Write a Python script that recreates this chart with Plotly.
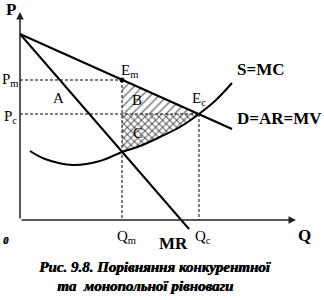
import plotly.graph_objects as go

# ---- data (diagram units: Q horizontal, P vertical) ----
demand_q = [0, 102, 179, 212]
demand_p = [186, 140, 106, 91]
mr_q = [0, 169]
mr_p = [186, -9]
mc_q = [10, 25, 53, 80, 102, 120, 140, 160, 179, 196, 212]
mc_p = [69, 61, 55, 59, 68, 74, 83, 93, 106, 120, 137]
Qm, Qc = 102, 179
Pm, Pc = 140, 106
Q_max, P_max = 276, 208

W, H = 324, 300
X0, Y0 = 20, 220  # pixel position of origin

fig = go.Figure()

# hatched region B (diagonal)
fig.add_trace(go.Scatter(
    x=[Qm, Qc, Qm, Qm], y=[Pm, Pc, Pc, Pm], mode="lines", fill="toself",
    line=dict(width=0, color="black"), fillcolor="white",
    fillpattern=dict(shape="/", size=6, solidity=0.25, fgcolor="black", bgcolor="white"),
    hoverinfo="skip", showlegend=False))

# cross-hatched region C (two overlaid diagonal hatches)
c_q = [Qm, Qc] + [q for q in reversed(mc_q) if Qm <= q <= Qc]
c_p = [Pc, Pc] + [p for q, p in reversed(list(zip(mc_q, mc_p))) if Qm <= q <= Qc]
for shape, bg in [("/", "white"), ("\\", "rgba(0,0,0,0)")]:
    fig.add_trace(go.Scatter(
        x=c_q + [Qm], y=c_p + [Pc], mode="lines", fill="toself",
        line=dict(width=0, color="black"), fillcolor=bg,
        fillpattern=dict(shape=shape, size=5, solidity=0.25, fgcolor="black", bgcolor=bg),
        hoverinfo="skip", showlegend=False))

dash = dict(color="black", width=1, dash="3px,2px")
for xs, ys in [([0, Qm], [Pm, Pm]), ([0, Qc], [Pc, Pc]),
               ([Qm, Qm], [Pm, 0]), ([Qc, Qc], [Pc, 0])]:
    fig.add_trace(go.Scatter(x=xs, y=ys, mode="lines", line=dash,
                             hoverinfo="skip", showlegend=False))

solid = dict(color="black", width=2)
fig.add_trace(go.Scatter(x=demand_q, y=demand_p, mode="lines", line=solid, showlegend=False))
fig.add_trace(go.Scatter(x=mr_q, y=mr_p, mode="lines", line=solid, showlegend=False))
fig.add_trace(go.Scatter(x=mc_q, y=mc_p, mode="lines",
                         line=dict(color="black", width=2, shape="spline"), showlegend=False))
fig.add_trace(go.Scatter(x=[Qm], y=[Pm], mode="markers",
                         marker=dict(color="black", size=5), showlegend=False))

# axes with arrows
fig.add_annotation(x=Q_max, y=0, ax=0, ay=0, xref="x", yref="y", axref="x", ayref="y",
                   showarrow=True, arrowhead=2, arrowsize=1, arrowwidth=1.5,
                   arrowcolor="#222", text="")
fig.add_annotation(x=0, y=P_max, ax=0, ay=0, xref="x", yref="y", axref="x", ayref="y",
                   showarrow=True, arrowhead=2, arrowsize=1, arrowwidth=1.5,
                   arrowcolor="#222", text="")

SERIF = "Liberation Serif, Times New Roman, DejaVu Serif, serif"


def label(text, x_px, y_px, size=15, bold=False, italic=False, heavy=False):
    font = dict(family=SERIF, size=size, color="black",
                weight="bold" if bold else "normal",
                style="italic" if italic else "normal")
    if heavy:
        font["shadow"] = "0.7px 0px 0px black"
    fig.add_annotation(x=x_px / W, y=1 - y_px / H, xref="paper", yref="paper",
                       text=text, showarrow=False, xanchor="center", yanchor="middle",
                       font=font)


label("P", 11, 10, size=17, bold=True)
label("P<sub>m</sub>", 10, 80, size=15)
label("P<sub>c</sub>", 10, 117, size=15)
label("A", 58, 98, size=15)
label("E<sub>m</sub>", 129, 71, size=15)
label("B", 137, 100, size=15)
label("C", 138, 133, size=15)
label("E<sub>c</sub>", 199, 99, size=15)
label("S=MC", 260, 69, size=17, bold=True)
label("D=AR=MV", 279, 118, size=17, bold=True)
label("Q<sub>m</sub>", 126, 237, size=15)
label("Q<sub>c</sub>", 203, 237, size=15)
label("MR", 173, 243, size=17, bold=True)
label("Q", 304, 235, size=17, bold=True)
label("0", 5, 240, size=10, bold=True, italic=True, heavy=True)
label("Рис. 9.8. Порівняння конкурентної", 155, 267, size=15, bold=True, italic=True, heavy=True)
label("та  монопольної рівноваги", 145, 286, size=15, bold=True, italic=True, heavy=True)

fig.update_layout(
    width=W, height=H, margin=dict(l=0, r=0, t=0, b=0),
    paper_bgcolor="white", plot_bgcolor="white",
    xaxis=dict(range=[-X0, W - X0], visible=False, fixedrange=True),
    yaxis=dict(range=[Y0 - H, Y0], visible=False, fixedrange=True),
    showlegend=False,
)

fig.write_html("out.html")
